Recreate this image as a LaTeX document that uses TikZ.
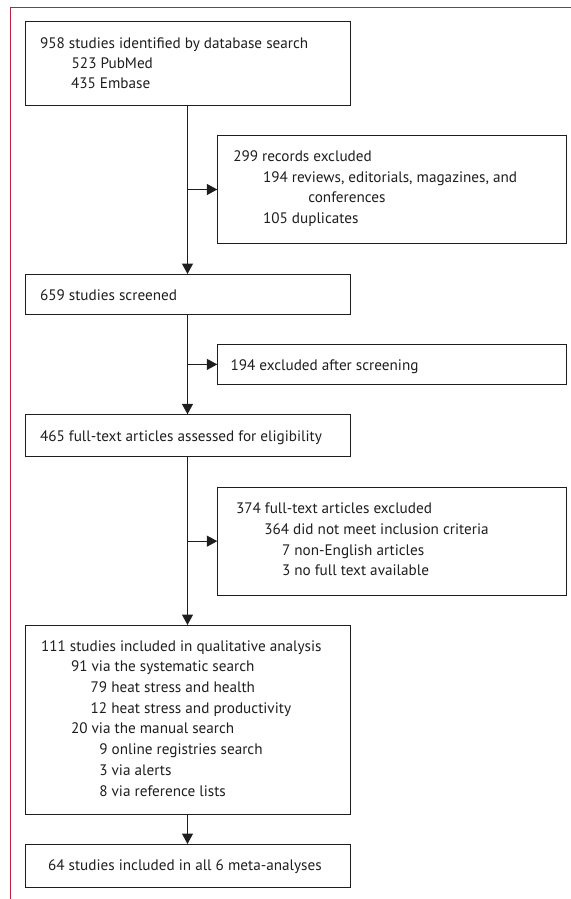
\documentclass[tikz,border=0pt]{standalone}
\usepackage{fontspec}
\setmainfont{PT Sans}
\usetikzlibrary{arrows.meta}
\definecolor{framered}{RGB}{192,32,64}
\definecolor{ink}{RGB}{30,30,30}
\begin{document}
\begin{tikzpicture}[x=1bp,y=-1bp,
  box/.style={draw=ink, line width=0.9bp, inner sep=0pt, outer sep=0pt},
  txt/.style={anchor=base west, inner sep=0pt, outer sep=0pt, text=ink, font=\fontsize{15.2bp}{19bp}\selectfont},
  arr/.style={draw=ink, line width=1.2bp, -{Triangle[length=10.5bp,width=11bp]}}]
\useasboundingbox (0,0) rectangle (571,899);
% frame
\coordinate (fa) at (10,7.3);
\coordinate (fb) at (571,7.3);
\coordinate (fc) at (10,899);
\draw[framered, line width=1bp] (fb) -- (fa) -- (fc);
% boxes
\node[box, minimum width=325bp, minimum height=83.3bp] (b1) at (187.5,63.35) {};
\node[box, minimum width=348.7bp, minimum height=107.6bp] (b2) at (391.65,189.5) {};
\node[box, minimum width=325bp, minimum height=40bp] (b3) at (187.5,294) {};
\node[box, minimum width=348.7bp, minimum height=40.2bp] (b4) at (391.65,364.4) {};
\node[box, minimum width=325bp, minimum height=42.4bp] (b5) at (187.5,435.5) {};
\node[box, minimum width=348.7bp, minimum height=107.7bp] (b6) at (391.65,541.15) {};
\node[box, minimum width=325bp, minimum height=189.3bp] (b7) at (187.5,719.65) {};
\node[box, minimum width=325bp, minimum height=43.7bp] (b8) at (187.5,865.85) {};
% texts
\node[txt] (t1a) at (40,48.5) {958 studies identified by database search};
\node[txt] (t1b) at (71.7,68.5) {523 PubMed};
\node[txt] (t1c) at (71,88.5) {435 Embase};
\node[txt] (t2a) at (233.3,161.5) {299 records excluded};
\node[txt] (t2b) at (263,182) {194 reviews, editorials, magazines, and};
\node[txt] (t2c) at (308.3,202.5) {conferences};
\node[txt] (t2d) at (263,223) {105 duplicates};
\node[txt] (t3a) at (40,300) {659 studies screened};
\node[txt] (t4a) at (230.5,370) {194 excluded after screening};
\node[txt] (t5a) at (40,441) {465 full-text articles assessed for eligibility};
\node[txt] (t6a) at (236,513.5) {374 full-text articles excluded};
\node[txt] (t6b) at (264.3,534.5) {364 did not meet inclusion criteria};
\node[txt] (t6c) at (282,555) {7 non-English articles};
\node[txt] (t6d) at (282,575.5) {3 no full text available};
\node[txt] (t7a) at (41,651) {111 studies included in qualitative analysis};
\node[txt] (t7b) at (71,671.7) {91 via the systematic search};
\node[txt] (t7c) at (90.7,692.3) {79 heat stress and health};
\node[txt] (t7d) at (90.7,713) {12 heat stress and productivity};
\node[txt] (t7e) at (71,733.7) {20 via the manual search};
\node[txt] (t7f) at (99.3,754.3) {9 online registries search};
\node[txt] (t7g) at (99.3,775.7) {3 via alerts};
\node[txt] (t7h) at (99.3,796) {8 via reference lists};
\node[txt] (t8a) at (48,870) {64 studies included in all 6 meta-analyses};
% connectors
\draw[arr] (b1.south) -- (b3.north);
\draw[arr] (b1.south |- b2.west) -- (b2.west);
\draw[arr] (b3.south) -- (b5.north);
\draw[arr] (b3.south |- b4.west) -- (b4.west);
\draw[arr] (b5.south) -- (b7.north);
\draw[arr] (b5.south |- b6.west) -- (b6.west);
\draw[arr] (b7.south) -- (b8.north);
\end{tikzpicture}
\end{document}
